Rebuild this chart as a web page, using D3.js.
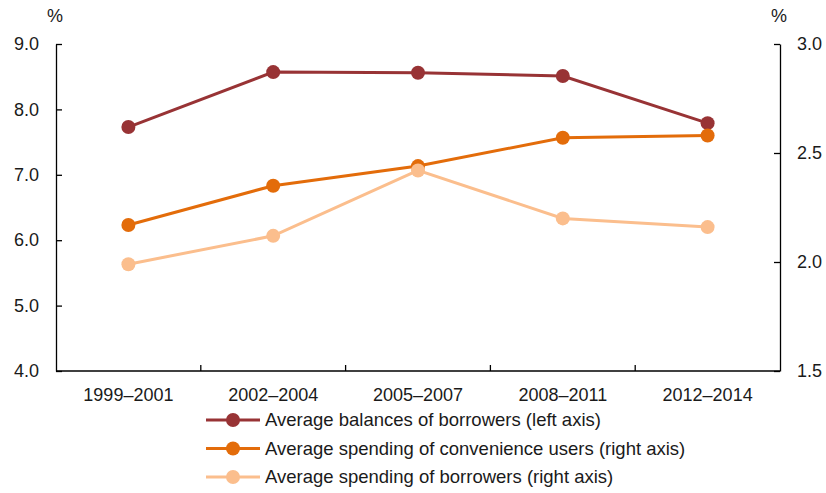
<!DOCTYPE html>
<html lang="en">
<head>
<meta charset="UTF-8" />
<title>Credit card balances and spending</title>
<script src="https://cdn.jsdelivr.net/npm/d3@7"></script>
<style>
  body { margin: 0; background: #fff; }
  svg text { font-family: Arial, "Liberation Sans", sans-serif; fill: #1a1a1a; }
  .axis path, .axis line { stroke: #000; stroke-width: 1.3; }
  .axis text { font-size: 18px; font-family: Arial, "Liberation Sans", sans-serif; fill: #1a1a1a; }
</style>
</head>
<body>
<svg id="chart" width="826" height="493"></svg>
<script>
  const periods = ["1999–2001", "2002–2004", "2005–2007", "2008–2011", "2012–2014"];
  const balancesBorrowers = [7.73, 8.57, 8.56, 8.51, 7.79];     // left axis
  const spendingConvenience = [2.17, 2.35, 2.44, 2.57, 2.58];   // right axis
  const spendingBorrowers = [1.99, 2.12, 2.42, 2.20, 2.16];     // right axis
  const leftTicks = [4, 5, 6, 7, 8, 9];
  const rightTicks = [1.5, 2.0, 2.5, 3.0];

  const series = [
    { name: "Average balances of borrowers (left axis)", values: balancesBorrowers, axis: "left", color: "#983335" },
    { name: "Average spending of convenience users (right axis)", values: spendingConvenience, axis: "right", color: "#e36c0a" },
    { name: "Average spending of borrowers (right axis)", values: spendingBorrowers, axis: "right", color: "#fbbe8d" }
  ];

  const svg = d3.select("#chart");
  const plotLeft = 56, plotRight = 780, plotTop = 44, plotBottom = 371;

  const x = d3.scaleBand().domain(periods).range([plotLeft, plotRight]);
  const yL = d3.scaleLinear().domain([4, 9]).range([plotBottom, plotTop]);
  const yR = d3.scaleLinear().domain([1.5, 3]).range([plotBottom, plotTop]);

  // x axis: ticks sit between categories, pointing up
  const xg = svg.append("g").attr("class", "axis")
    .attr("transform", `translate(0,${plotBottom})`)
    .call(d3.axisBottom(x).tickSize(0).tickPadding(17));
  xg.select(".domain").remove();
  xg.append("line").attr("x1", plotLeft).attr("x2", plotRight).attr("y1", 0).attr("y2", 0);
  periods.slice(1).forEach(p => {
    xg.append("line").attr("x1", x(p)).attr("x2", x(p)).attr("y1", 0).attr("y2", -6);
  });

  svg.append("g").attr("class", "axis")
    .attr("transform", `translate(${plotLeft},0)`)
    .call(d3.axisLeft(yL).tickValues(leftTicks).tickFormat(d3.format(".1f")).tickSizeInner(-6).tickSizeOuter(0).tickPadding(17));

  svg.append("g").attr("class", "axis")
    .attr("transform", `translate(${plotRight},0)`)
    .call(d3.axisRight(yR).tickValues(rightTicks).tickFormat(d3.format(".1f")).tickSizeInner(-6).tickSizeOuter(0).tickPadding(17));

  svg.append("text").attr("x", plotLeft - 1).attr("y", 22).attr("text-anchor", "middle").style("font-size", "18px").text("%");
  svg.append("text").attr("x", plotRight - 1).attr("y", 22).attr("text-anchor", "middle").style("font-size", "18px").text("%");

  series.forEach(s => {
    const y = s.axis === "left" ? yL : yR;
    const line = d3.line()
      .x((d, i) => x(periods[i]) + x.bandwidth() / 2)
      .y(d => y(d));
    const g = svg.append("g");
    g.append("path")
      .datum(s.values)
      .attr("d", line)
      .attr("fill", "none")
      .attr("stroke", s.color)
      .attr("stroke-width", 3);
    g.selectAll("circle")
      .data(s.values)
      .join("circle")
      .attr("cx", (d, i) => x(periods[i]) + x.bandwidth() / 2)
      .attr("cy", d => y(d))
      .attr("r", 7)
      .attr("fill", s.color);
  });

  // legend
  const legend = svg.append("g").attr("transform", "translate(206,420)");
  series.forEach((s, i) => {
    const row = legend.append("g").attr("transform", `translate(0,${i * 28.5})`);
    row.append("line").attr("x1", 0).attr("x2", 54).attr("y1", 0).attr("y2", 0)
      .attr("stroke", s.color).attr("stroke-width", 3);
    row.append("circle").attr("cx", 27).attr("cy", 0).attr("r", 7).attr("fill", s.color);
    row.append("text").attr("x", 59).attr("y", 0).attr("dy", "0.35em")
      .style("font-size", "18.5px").text(s.name);
  });
</script>
</body>
</html>
